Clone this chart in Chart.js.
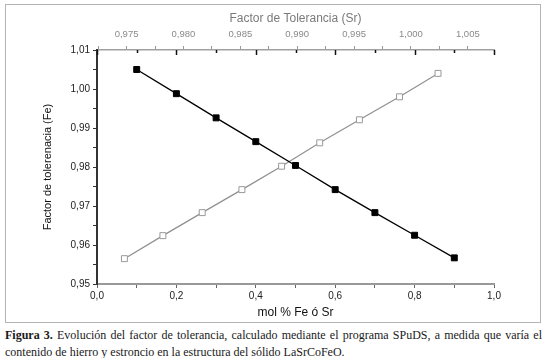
<!DOCTYPE html>
<html>
<head>
<meta charset="utf-8">
<script src="https://cdn.jsdelivr.net/npm/chart.js@4.4.1/dist/chart.umd.min.js"></script>
<style>
    html, body { margin: 0; padding: 0; background: #fff; }
    #box { position: absolute; left: 5px; top: 4px; width: 534px; height: 317px; border: 1px solid #b4b4b4; }
    #box canvas { display: block; }
    #cap {
        position: absolute; left: 5px; top: 327px; width: 537px;
        font-family: 'Liberation Serif', 'DejaVu Serif', serif; font-size: 12px; line-height: 16.5px;
        color: #1a1a1a; text-align: justify; text-align-last: left;
    }
</style>
</head>
<body>
<div id="box"><canvas id="chart" width="534" height="317"></canvas></div>
<div id="cap"><b>Figura 3.</b> Evolución del factor de tolerancia, calculado mediante el programa SPuDS, a medida que varía el contenido de hierro y estroncio en la estructura del sólido LaSrCoFeO.</div>

<script>
// mol fraction of Fe and tolerance factor (filled squares)
const molFe = [0.1, 0.2, 0.3, 0.4, 0.5, 0.6, 0.7, 0.8, 0.9];
const tolFe = [1.005, 0.9988, 0.9926, 0.9865, 0.9804, 0.9742, 0.9683, 0.9625, 0.9567];

// Sr series (open squares)
const molSr = [0.069, 0.166, 0.265, 0.365, 0.465, 0.561, 0.661, 0.762, 0.859];
const tolSr = [0.9565, 0.9624, 0.9683, 0.9742, 0.9802, 0.9862, 0.9921, 0.998, 1.004];

// tick settings
const xTicks = [0, 0.2, 0.4, 0.6, 0.8, 1.0];
const yTicks = [0.95, 0.96, 0.97, 0.98, 0.99, 1.00, 1.01];
const topTicks = [0.975, 0.980, 0.985, 0.990, 0.995, 1.000, 1.005];

const comma = (v, d) => v.toFixed(d).replace('.', ',');
const near = (v, list) => list.some(t => Math.abs(t - v) < 1e-6);

// black inward ticks mirrored on the top axis (Origin style)
const topMirror = {
    id: 'topMirror',
    afterDraw(chart) {
        const {ctx, chartArea} = chart;
        const x = chart.scales.x;
        ctx.save();
        ctx.strokeStyle = '#111';
        ctx.lineWidth = 1.5;
        for (let i = 0; i <= 10; i++) {
            const px = Math.round(x.getPixelForValue(i / 10)) + 0.5;
            ctx.beginPath();
            ctx.moveTo(px, chartArea.top);
            ctx.lineTo(px, chartArea.top + (i % 2 ? 3 : 5));
            ctx.stroke();
        }
        ctx.restore();
    }
};

const ctx = document.getElementById('chart');
new Chart(ctx, {
    type: 'line',
    data: {
        datasets: [
            {
                label: 'Fe',
                data: molFe.map((v, i) => ({x: v, y: tolFe[i]})),
                xAxisID: 'x',
                borderColor: '#000',
                borderWidth: 1.3,
                backgroundColor: '#000',
                pointStyle: 'rect',
                pointRadius: 4.2,
                pointBorderWidth: 1,
                pointBorderColor: '#000',
                pointBackgroundColor: '#000'
            },
            {
                label: 'Sr',
                data: molSr.map((v, i) => ({x: v, y: tolSr[i]})),
                xAxisID: 'x',
                borderColor: '#909090',
                borderWidth: 1.2,
                pointStyle: 'rect',
                pointRadius: 4.2,
                pointBorderWidth: 1,
                pointBorderColor: '#999',
                pointBackgroundColor: '#fff'
            }
        ]
    },
    options: {
        responsive: false,
        animation: false,
        layout: {padding: {left: 0, right: 46, top: 0, bottom: 0}},
        plugins: {legend: {display: false}, tooltip: {enabled: false}},
        scales: {
            x: {
                type: 'linear', position: 'bottom', min: 0, max: 1,
                afterFit: s => { s.height = 38; },
                border: {color: '#999', width: 2},
                grid: {drawOnChartArea: false, tickLength: 4, color: '#666', tickWidth: 1},
                ticks: {
                    stepSize: 0.1, autoSkip: false, maxRotation: 0, padding: 2,
                    color: '#222', font: {family: 'Liberation Sans', size: 10},
                    callback: v => near(v, xTicks) ? comma(v, 1) : ''
                },
                title: {
                    display: true, text: 'mol % Fe ó Sr', color: '#111',
                    font: {family: 'Liberation Sans', size: 12}, padding: {top: 0, bottom: 2}
                }
            },
            x2: {
                type: 'linear', position: 'top', min: 0.9724, max: 1.0073,
                afterFit: s => { s.height = 45; },
                border: {color: '#a0a0a0', width: 1.5},
                grid: {drawOnChartArea: false, tickLength: 4, color: '#999'},
                ticks: {
                    stepSize: 0.0025, includeBounds: false, autoSkip: false, maxRotation: 0, padding: 6,
                    color: '#8a8a8a', font: {family: 'Liberation Sans', size: 9.5},
                    callback: v => near(v, topTicks) ? comma(v, 3) : ''
                },
                title: {
                    display: true, text: 'Factor de Tolerancia (Sr)', color: '#7a7a7a',
                    font: {family: 'Liberation Sans', size: 12}, padding: {top: 6, bottom: 0}
                }
            },
            y: {
                type: 'linear', position: 'left', min: 0.95, max: 1.01,
                afterFit: s => { s.width = 91; },
                border: {color: '#333', width: 2},
                grid: {drawOnChartArea: false, tickLength: 4, color: '#333'},
                ticks: {
                    stepSize: 0.005, autoSkip: false, padding: 3,
                    color: '#222', font: {family: 'Liberation Sans', size: 10},
                    callback: v => near(v, yTicks) ? comma(v, 2) : ''
                },
                title: {
                    display: true, text: 'Factor de tolerenacia (Fe)', color: '#111',
                    font: {family: 'Liberation Sans', size: 11}, padding: {top: 35, bottom: 0}
                }
            }
        }
    },
    plugins: [topMirror]
});
</script>
</body>
</html>
